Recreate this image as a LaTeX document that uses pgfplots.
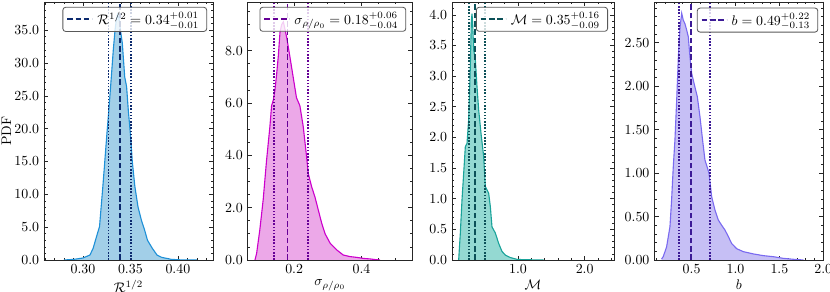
\documentclass[border=0pt]{standalone}
\usepackage{pgfplots}
\usepackage{pgfplotstable}
\pgfplotsset{compat=1.18}
\usepackage{amsmath}

\definecolor{fillA}{RGB}{162,207,232}
\definecolor{edgeA}{RGB}{30,144,215}
\definecolor{lineA}{RGB}{12,42,110}
\definecolor{fillB}{RGB}{236,168,232}
\definecolor{edgeB}{RGB}{204,0,204}
\definecolor{lineB}{RGB}{102,0,150}
\definecolor{fillC}{RGB}{148,217,210}
\definecolor{edgeC}{RGB}{26,163,154}
\definecolor{lineC}{RGB}{12,80,88}
\definecolor{fillD}{RGB}{198,191,245}
\definecolor{edgeD}{RGB}{122,106,240}
\definecolor{lineD}{RGB}{60,26,150}

\pgfplotstableread{
x y
0.2800 0
0.2905 0.1
0.3000 0.3
0.3074 0.76
0.3108 1.8
0.3142 3.5
0.3175 5.1
0.3192 8.1
0.3210 11.2
0.3226 14.2
0.3253 19.3
0.3270 22.3
0.3294 26.9
0.3320 32.0
0.3338 35.0
0.3351 36.5
0.3365 37.4
0.3380 36.8
0.3400 34.5
0.3415 33.0
0.3440 27.9
0.3460 26.4
0.3478 22.8
0.3500 19.2
0.3520 15.0
0.3547 11.2
0.3580 8.1
0.3615 6.1
0.3649 4.6
0.3680 3.0
0.3730 1.8
0.3780 0.76
0.3830 0.4
0.3930 0.1
0.4030 0.02
0.4200 0
}\dataA

\pgfplotstableread{
x y
0.0836 0
0.0885 0.25
0.098 1.15
0.108 2.3
0.118 3.8
0.128 5.1
0.133 5.9
0.138 6.1
0.143 6.5
0.148 7.1
0.153 7.8
0.158 8.7
0.163 9.0
0.168 9.1
0.173 8.8
0.178 8.5
0.187 7.8
0.197 7.0
0.207 6.2
0.217 5.9
0.227 5.1
0.237 3.95
0.242 3.3
0.252 2.8
0.262 2.4
0.272 1.9
0.282 1.4
0.292 1.0
0.307 0.64
0.327 0.38
0.346 0.19
0.366 0.13
0.386 0.1
0.406 0.06
0.426 0.04
0.445 0.01
0.455 0
}\dataB

\pgfplotstableread{
x y
0.11 0
0.135 0.44
0.16 0.98
0.185 1.41
0.21 1.85
0.235 1.9
0.26 2.29
0.285 3.16
0.30 3.90
0.31 4.02
0.32 3.85
0.335 3.43
0.36 3.27
0.385 2.83
0.41 2.45
0.445 2.07
0.485 1.69
0.51 1.2
0.56 1.09
0.585 0.87
0.61 0.54
0.66 0.44
0.71 0.27
0.76 0.14
0.81 0.08
0.885 0.04
0.985 0.01
1.085 0.005
1.385 0
}\dataC

\pgfplotstableread{
x y
0.158 0.01
0.177 0.04
0.215 0.15
0.253 0.38
0.272 0.69
0.291 1.07
0.31 1.38
0.33 1.84
0.349 2.34
0.368 2.68
0.387 2.84
0.405 2.76
0.424 2.72
0.443 2.65
0.462 2.57
0.481 2.34
0.5 2.15
0.519 2.07
0.538 1.99
0.565 1.88
0.595 1.65
0.625 1.38
0.652 1.15
0.671 1.09
0.698 1.0
0.728 0.73
0.766 0.575
0.804 0.46
0.842 0.40
0.88 0.345
0.918 0.27
0.956 0.19
1.013 0.13
1.089 0.096
1.203 0.07
1.317 0.05
1.431 0.038
1.545 0.019
1.66 0.008
1.774 0
}\dataD

\pgfplotsset{
  panel/.style={
    scale only axis, height=185.76pt, anchor=south west,
    ymin=0, tick align=inside,
    major tick length=3.2pt, minor tick length=1.7pt,
    axis line style={black!85, line width=0.6pt},
    every tick/.style={black!85, line width=0.5pt},
    legend cell align=left,
    legend style={anchor=north east, draw=black!65, line width=0.6pt,
      rounded corners=2pt, fill=white, fill opacity=0.8, text opacity=1,
      inner xsep=2.5pt, inner ysep=1.5pt,
      nodes={inner xsep=3pt}},
    legend image code/.code={\draw[##1, line width=1.3pt] (0pt,0pt) -- (18pt,0pt);},
    xlabel style={yshift=2.5pt},
    ylabel style={yshift=-4.5pt},
  },
  med/.style={line width=1.3pt, dash pattern=on 4pt off 2pt},
  qnt/.style={line width=1.3pt, dash pattern=on 1.1pt off 1.2pt, forget plot},
}

\begin{document}
\begin{tikzpicture}
\path[use as bounding box] (0,0) rectangle (597.6pt,210.24pt);

% Panel 1
\begin{axis}[panel, at={(31.68pt,23.04pt)}, width=121.68pt,
  xmin=0.259, xmax=0.437, ymax=39.3,
  xtick={0.30,0.35,0.40}, minor xtick={0.26,0.27,...,0.435},
  ytick={0,5,...,35}, minor ytick={0,1,...,39},
  xticklabel style={/pgf/number format/.cd, fixed, fixed zerofill, precision=2},
  yticklabel style={/pgf/number format/.cd, fixed, fixed zerofill, precision=1},
  xlabel={$\mathcal{R}^{1/2}$}, ylabel={PDF},
  legend style={at={(0.965,0.981)}}]
\addplot[draw=none, fill=fillA, forget plot] table {\dataA} \closedcycle;
\addplot[edgeA, line width=0.8pt, forget plot] table {\dataA};
\addplot[lineA, qnt] coordinates {(0.327,0) (0.327,39.3)};
\addplot[lineA, qnt] coordinates {(0.351,0) (0.351,39.3)};
\addplot[lineA, med] coordinates {(0.339,0) (0.339,39.3)};
\addlegendentry{$\mathcal{R}^{1/2} = 0.34^{+0.01}_{-0.01}$}
\end{axis}

% Panel 2
\begin{axis}[panel, at={(178.34pt,23.04pt)}, width=118.5pt,
  xmin=0.062, xmax=0.551, ymax=9.86,
  xtick={0.2,0.4}, minor xtick={0.1,0.15,...,0.55},
  ytick={0,2,...,8}, minor ytick={0,0.5,...,9.5},
  xticklabel style={/pgf/number format/.cd, fixed, fixed zerofill, precision=1},
  yticklabel style={/pgf/number format/.cd, fixed, fixed zerofill, precision=1},
  xlabel={$\sigma_{\rho/\rho_0}$},
  legend style={at={(0.963,0.981)}}]
\addplot[draw=none, fill=fillB, forget plot] table {\dataB} \closedcycle;
\addplot[edgeB, line width=0.8pt, forget plot] table {\dataB};
\addplot[lineB, qnt] coordinates {(0.14,0) (0.14,9.86)};
\addplot[lineB, qnt] coordinates {(0.24,0) (0.24,9.86)};
\addplot[lineB, med] coordinates {(0.18,0) (0.18,9.86)};
\addlegendentry{$\sigma_{\rho/\rho_0} = 0.18^{+0.06}_{-0.04}$}
\end{axis}

% Panel 3
\begin{axis}[panel, at={(325.44pt,23.04pt)}, width=116.64pt,
  xmin=0.01, xmax=2.44, ymax=4.21,
  xtick={1,2}, minor xtick={0.2,0.4,...,2.4},
  ytick={0,0.5,...,4}, minor ytick={0,0.1,...,4.2},
  xticklabel style={/pgf/number format/.cd, fixed, fixed zerofill, precision=1},
  yticklabel style={/pgf/number format/.cd, fixed, fixed zerofill, precision=1},
  xlabel={$\mathcal{M}$},
  legend style={at={(0.963,0.981)}}]
\addplot[draw=none, fill=fillC, forget plot] table {\dataC} \closedcycle;
\addplot[edgeC, line width=0.8pt, forget plot] table {\dataC};
\addplot[lineC, qnt] coordinates {(0.26,0) (0.26,4.21)};
\addplot[lineC, qnt] coordinates {(0.51,0) (0.51,4.21)};
\addplot[lineC, med] coordinates {(0.35,0) (0.35,4.21)};
\addlegendentry{$\mathcal{M} = 0.35^{+0.16}_{-0.09}$}
\end{axis}

% Panel 4
\begin{axis}[panel, at={(471.1pt,23.04pt)}, width=121.68pt,
  xmin=0.075, xmax=2.0, ymax=2.97,
  xtick={0.5,1,1.5,2}, minor xtick={0.1,0.2,...,2.0},
  ytick={0,0.5,...,2.5}, minor ytick={0,0.1,...,2.9},
  xticklabel style={/pgf/number format/.cd, fixed, fixed zerofill, precision=1},
  yticklabel style={/pgf/number format/.cd, fixed, fixed zerofill, precision=2},
  xlabel={$b$},
  legend style={at={(0.97,0.978)}}]
\addplot[draw=none, fill=fillD, forget plot] table {\dataD} \closedcycle;
\addplot[edgeD, line width=0.8pt, forget plot] table {\dataD};
\addplot[lineD, qnt] coordinates {(0.36,0) (0.36,2.97)};
\addplot[lineD, qnt] coordinates {(0.71,0) (0.71,2.97)};
\addplot[lineD, med] coordinates {(0.49,0) (0.49,2.97)};
\addlegendentry{$b = 0.49^{+0.22}_{-0.13}$}
\end{axis}
\end{tikzpicture}
\end{document}
